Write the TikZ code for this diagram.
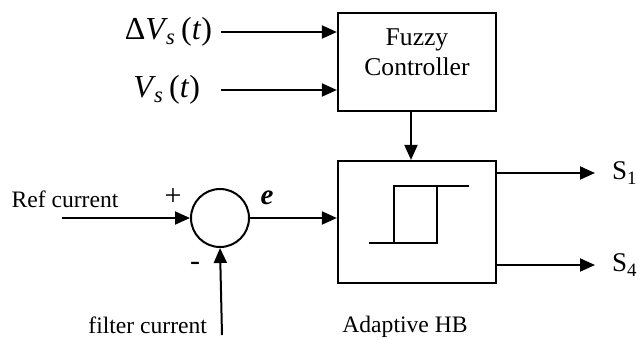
\documentclass[tikz,border=0pt]{standalone}
\usepackage{fontspec}
\setmainfont{Liberation Serif}
\usetikzlibrary{arrows.meta, positioning, calc}

\begin{document}
\begin{tikzpicture}[
  x=0.5pt, y=-0.5pt,
  >={Triangle[length=7.5pt,width=6.5pt]},
  line width=1pt,
  block/.style={rectangle, draw, line width=1.1pt, minimum width=79pt, inner sep=0pt},
  sumjunc/.style={circle, draw, minimum size=29pt, inner sep=0pt},
  lbl/.style={font=\fontsize{11.8}{14}\selectfont, inner sep=0pt},
  sig/.style={font=\fontsize{16}{18}\selectfont, inner sep=0pt}
]
  \useasboundingbox (0,0) rectangle (638,339);

  % blocks
  \node[block, minimum height=49pt] (fuzzy) at (417,62) {};
  \node[align=center, inner sep=0pt, font=\fontsize{12.8}{15}\selectfont] (fuzzytext)
    at ([yshift=5pt]fuzzy.center) {Fuzzy\\Controller};
  \node[block, minimum height=61pt] (hb) at (417,222) {};
  \node[sumjunc] (sum) at (220,218) {};

  % hysteresis symbol
  \draw ([shift={(-48,21)}]hb.center) -- ([shift={(21,21)}]hb.center);
  \draw ([shift={(-23,21)}]hb.center) -- ([shift={(-23,-36)}]hb.center)
    -- ([shift={(52,-36)}]hb.center);
  \draw ([shift={(20,-36)}]hb.center) -- ([shift={(20,21)}]hb.center);

  % inputs of the fuzzy controller
  \coordinate (dvsin) at (221,32);
  \coordinate (vsin) at (221,90);
  \node[sig, left=4pt of dvsin] (dvs) {Δ\textit{V}\textsubscript{\kern-1pt\textit{s}}\,(\textit{t})};
  \node[sig, left=10pt of vsin] (vs) {\textit{V}\textsubscript{\kern-1pt\textit{s}}\,(\textit{t})};
  \draw[->] (dvsin) -- (dvsin -| fuzzy.west);
  \draw[->] (vsin) -- (vsin -| fuzzy.west);
  \draw[->] ([xshift=-3pt]fuzzy.south) -- ([xshift=-3pt]hb.north);

  % error path
  \coordinate (refin) at (62,218);
  \coordinate (filin) at (222,335);
  \node[lbl] (ref) at (65,199) {Ref current};
  \node[lbl, anchor=east] (fil) at ([shift={(-14,-10)}]filin) {filter current};
  \node[lbl, font=\fontsize{15}{16}\selectfont] (plus) at (173,197) {+};
  \node[lbl, font=\fontsize{15}{16}\selectfont] (minus) at (195,266) {-};
  \draw[->] (refin) -- (sum.west);
  \draw[->] (filin) -- (sum.south);
  \draw[->] (sum.east) -- (sum -| hb.west);
  \node[inner sep=0pt, font=\fontsize{14.5}{16}\selectfont\bfseries\itshape] (err) at (267,198) {e};

  % outputs
  \coordinate (s1end) at (595,173);
  \coordinate (s4end) at (595,265);
  \draw[->] (s1end -| hb.east) -- (s1end);
  \draw[->] (s4end -| hb.east) -- (s4end);
  \node[lbl, font=\fontsize{13.5}{16}\selectfont, right=8pt of s1end] (s1) {S\textsubscript{1}};
  \node[lbl, font=\fontsize{13.5}{16}\selectfont, right=8pt of s4end] (s4) {S\textsubscript{4}};
  \node[lbl] (hbname) at (405,327) {Adaptive HB};
\end{tikzpicture}
\end{document}
